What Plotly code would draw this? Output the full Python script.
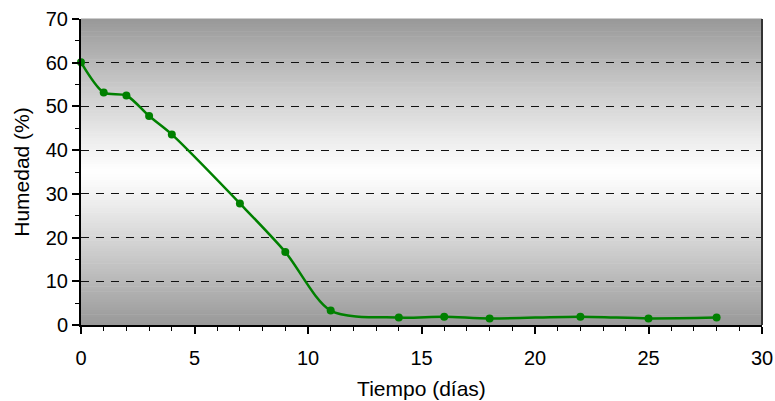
import plotly.graph_objects as go

# Drying curve: moisture content over time
dias = [0, 1, 2, 3, 4, 7, 9, 11, 14, 16, 18, 22, 25, 28]
humedad = [60.1, 53.2, 52.5, 47.8, 43.6, 27.8, 16.7, 3.3, 1.7, 1.9, 1.5, 1.9, 1.5, 1.7]

x_ticks = [0, 5, 10, 15, 20, 25, 30]
y_ticks = [0, 10, 20, 30, 40, 50, 60, 70]

fig = go.Figure()

fig.add_trace(go.Scatter(
    x=dias, y=humedad,
    mode="lines+markers",
    line=dict(color="#008000", width=2.5, shape="spline", smoothing=0.8),
    marker=dict(color="#008000", size=8),
    showlegend=False,
    cliponaxis=False,
))

# Vertical gray-white-gray gradient behind the plot area, built from thin bands
n_bands = 120
gray = 152
shapes = []
for i in range(n_bands):
    t0 = i / n_bands
    t1 = (i + 1) / n_bands
    tc = (t0 + t1) / 2
    f = abs(tc - 0.5) / 0.5
    v = int(round(255 - (255 - gray) * f ** 1.1))
    col = f"rgb({v},{v},{v})"
    shapes.append(dict(
        type="rect", xref="x domain", yref="y domain",
        x0=0, x1=1, y0=t0, y1=t1 + 0.002,
        fillcolor=col, line=dict(width=0), layer="below",
    ))

# Right border of the plot area
shapes.append(dict(
    type="line", xref="x domain", yref="y domain",
    x0=1, x1=1, y0=0, y1=1,
    line=dict(color="#333333", width=2), layer="above",
))

fig.update_layout(
    width=775, height=401,
    margin=dict(l=81, r=13, t=19, b=76),
    paper_bgcolor="white",
    plot_bgcolor="rgba(0,0,0,0)",
    font=dict(family="Liberation Sans, Arial, sans-serif", size=20, color="black"),
    shapes=shapes,
)

fig.update_xaxes(
    range=[0, 30],
    tickvals=x_ticks,
    automargin=False,
    showline=True, linecolor="black", linewidth=2,
    ticks="outside", ticklen=7, tickwidth=1.5, tickcolor="black",
    ticklabelstandoff=7,
    minor=dict(dtick=1, ticks="outside", ticklen=4, tickcolor="black", tickwidth=1, showgrid=False),
    showgrid=False, zeroline=False,
    title=dict(text="Tiempo (días)", font=dict(size=21), standoff=13),
)

fig.update_yaxes(
    range=[0, 70],
    tickvals=y_ticks,
    automargin=False,
    showline=True, linecolor="black", linewidth=2,
    ticks="outside", ticklen=7, tickwidth=1.5, tickcolor="black",
    minor=dict(dtick=5, ticks="outside", ticklen=4, tickcolor="black", tickwidth=1, showgrid=False),
    showgrid=True, gridcolor="#111111", gridwidth=1, griddash="8px,7px",
    zeroline=False,
    title=dict(text="Humedad (%)", font=dict(size=21), standoff=10),
)

fig.write_html("out.html")
